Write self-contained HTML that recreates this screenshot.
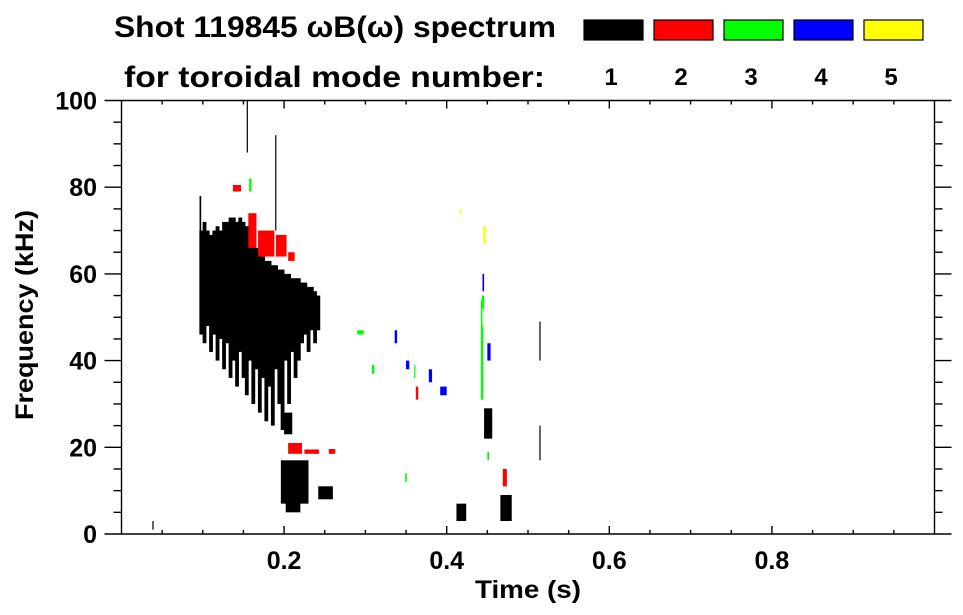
<!DOCTYPE html>
<html><head><meta charset="utf-8"><style>
html,body{margin:0;padding:0;background:#fff;}
svg{display:block;font-family:"Liberation Sans",sans-serif;font-weight:bold;}
</style></head><body>
<svg id="chart" width="963" height="615" viewBox="0 0 963 615" xmlns="http://www.w3.org/2000/svg">
<text x="114" y="37" font-size="30" textLength="442" lengthAdjust="spacingAndGlyphs">Shot 119845 ωB(ω) spectrum</text>
<text x="124" y="87" font-size="30" textLength="421" lengthAdjust="spacingAndGlyphs">for toroidal mode number:</text>
<g id="legend"></g>
<g id="marks"></g>
<g id="axes"></g>
<text x="528" y="598" font-size="25" text-anchor="middle" textLength="106" lengthAdjust="spacingAndGlyphs">Time (s)</text>
<text transform="translate(33,315) rotate(-90)" font-size="25" text-anchor="middle" textLength="210" lengthAdjust="spacingAndGlyphs">Frequency (kHz)</text>
</svg>
<script>
const modeColors = ["#000000","#ff0000","#00ff00","#0000ff","#ffff00"];
const modeLabels = ["1","2","3","4","5"];
const xTicks = [0.2,0.4,0.6,0.8];
const yTicks = [0,20,40,60,80,100];
// main n=1 columns: time, top freq, bottom freq
const colT = [0.098,0.102,0.106,0.110,0.114,0.118,0.122,0.126,0.130,0.134,0.138,0.142,0.146,0.150,0.154,0.158,0.162,0.166,0.170,0.174,0.178,0.182,0.186,0.190,0.194,0.198,0.202,0.206,0.210,0.214,0.218,0.222,0.226,0.230,0.234,0.238,0.242];
const colTop = [70,72,70,69,70,71,70,72,72,73,73,72,73,72,71,70,68,66,65,64,63,63,62,62,61,61,60,60,59,59,59,58,58,57,57,56,55];
const colBot = [46,44,48,42,46,40,45,38,44,36,40,34,42,36,32,40,30,38,28,36,26,34,25,38,30,24,40,30,42,36,40,44,46,42,47,44,47];
// other patches: t0, t1, f0, f1, mode
const patchT0 = [0.096,0.189,0.154,0.200,0.196,0.202,0.242,0.156,0.168,0.190,0.205,0.137,0.205,0.225,0.255,0.157,0.290,0.442,0.442,0.443,0.450,0.336,0.350,0.362,0.378,0.392,0.360,0.444,0.412,0.445,0.416,0.466,0.446,0.469,0.514,0.514,0.038,0.308,0.349,0.450];
const patchT1 = [0.098,0.190,0.155,0.210,0.230,0.220,0.260,0.166,0.188,0.203,0.213,0.147,0.222,0.243,0.263,0.160,0.298,0.445,0.444,0.446,0.454,0.339,0.354,0.365,0.382,0.400,0.358,0.446,0.424,0.448,0.418,0.480,0.456,0.474,0.515,0.515,0.039,0.311,0.351,0.452];
const patchF0 = [62,70,88,23,7,5,8,66,64,64,63,79,18.5,18.5,18.5,79,46,31,48,52,40,44,38,31,35,32,36,56,3,67,74,3,22,11,40,17,1,37,12,17];
const patchF1 = [78,92,100,28,17,12,11,74,70,69,65,80.5,21,19.5,19.6,82,47,48,54,55,44,47,40,34,38,34,39,60,7,71,75,9,29,15,49,25,3,39,14,19];
const patchMode = [1,1,1,1,1,1,1,2,2,2,2,2,2,2,2,3,3,3,3,3,4,4,4,2,4,4,3,4,1,5,5,1,1,2,1,1,1,3,3,3];

const X0=121.5, X1=934.5, Y0=534, Y1=100.5;
const x = t => X0 + (X1-X0)*t;
const y = f => Y0 + (Y1-Y0)*f/100;
const NS="http://www.w3.org/2000/svg";
function mk(tag, parent){const e=document.createElementNS(NS,tag);parent.appendChild(e);return e;}

const marks=document.getElementById('marks');
colT.forEach((t,i)=>{
  const r=mk('rect',marks);
  
  
  r.setAttribute('x',x(t)-1.8);r.setAttribute('width',3.8);
  r.setAttribute('y',y(colTop[i]));r.setAttribute('height',y(colBot[i])-y(colTop[i]));
  r.setAttribute('fill','#000');
});
patchT0.forEach((t0,i)=>{
  const r=mk('rect',marks);
  
  
  const w=Math.max(1.2,x(patchT1[i])-x(t0));
  r.setAttribute('x',x(t0));r.setAttribute('width',w);
  r.setAttribute('y',y(patchF1[i]));r.setAttribute('height',Math.max(1.5,y(patchF0[i])-y(patchF1[i])));
  r.setAttribute('fill',modeColors[patchMode[i]-1]);
});

const leg=document.getElementById('legend');
modeColors.forEach((c,i)=>{
  const r=mk('rect',leg);
  
  
  r.setAttribute('x',584+70*i);r.setAttribute('y',20);r.setAttribute('width',59);r.setAttribute('height',20);
  r.setAttribute('fill',c);r.setAttribute('stroke','#000');r.setAttribute('stroke-width','1.2');
  const tx=mk('text',leg);
  
  
  tx.setAttribute('x',611+70*i);tx.setAttribute('y',85);tx.setAttribute('font-size','24');tx.setAttribute('text-anchor','middle');
  tx.textContent=modeLabels[i];
});

const ax=document.getElementById('axes');
function line(x1,y1,x2,y2,name){const l=mk('line',ax);
  
  
  l.setAttribute('x1',x1);l.setAttribute('y1',y1);l.setAttribute('x2',x2);l.setAttribute('y2',y2);
  l.setAttribute('stroke','#000');l.setAttribute('stroke-width','1.4');}
line(X0,Y0,X1,Y0,'x-axis');line(X0,Y1,X1,Y1,'top-axis');
line(X0,Y0,X0,Y1,'y-axis');line(X1,Y0,X1,Y1,'right-axis');
for(let k=1;k<20;k++){const t=k*0.05;const major=(k%4===0);
  line(x(t),Y0,x(t),Y0-(major?8:4),'x-tick');
  line(x(t),Y1,x(t),Y1+(major?8:4),'top-tick');}
for(let k=0;k<=20;k++){const f=k*5;const major=(k%4===0);
  line(X0,y(f),X0-(major?17:8),y(f),'y-tick');
  line(X1,y(f),X1+(major?17:8),y(f),'right-y-tick');}
xTicks.forEach(t=>{const tx=mk('text',ax);
  
  
  tx.setAttribute('x',x(t));tx.setAttribute('y',569);tx.setAttribute('font-size','25');tx.setAttribute('text-anchor','middle');
  tx.textContent=t.toFixed(1);});
yTicks.forEach(f=>{const tx=mk('text',ax);
  
  
  tx.setAttribute('x',97);tx.setAttribute('y',y(f)+9);tx.setAttribute('font-size','25');tx.setAttribute('text-anchor','end');
  tx.textContent=String(f);});
</script>
</body></html>
